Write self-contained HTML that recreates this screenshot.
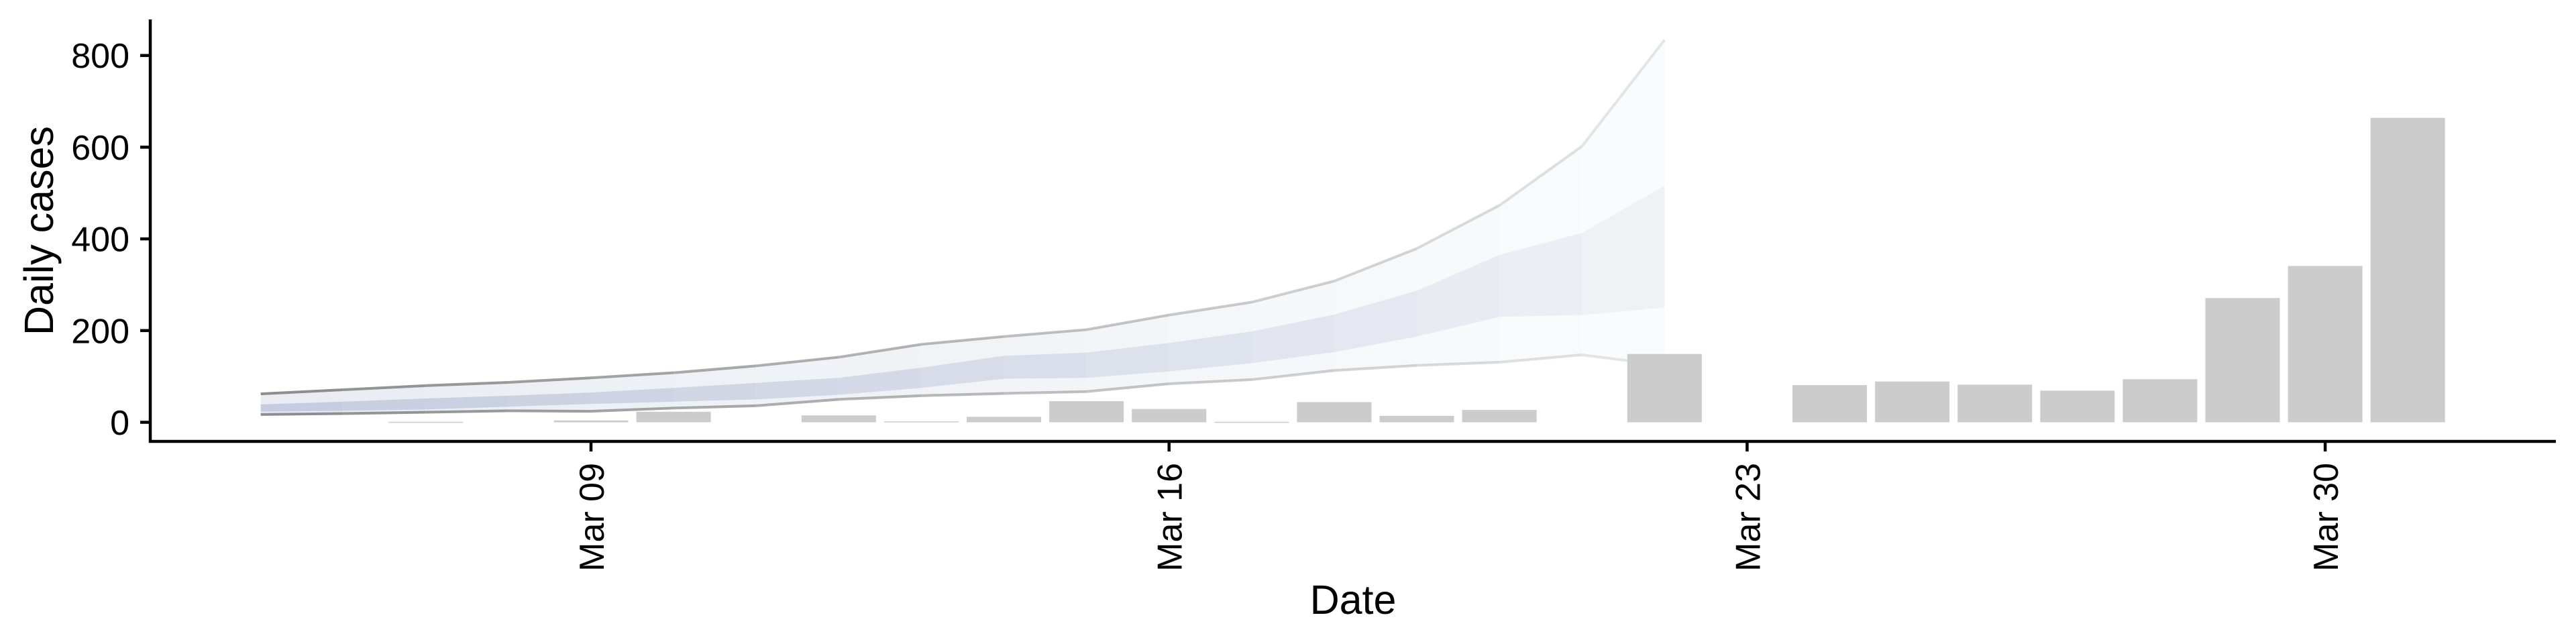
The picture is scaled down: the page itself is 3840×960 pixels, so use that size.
<!DOCTYPE html>
<html><head><meta charset="utf-8"><style>
html,body{margin:0;padding:0;background:#fff;}
svg{display:block;font-family:"Liberation Sans",Arial,sans-serif;}
</style></head><body>
<svg id="chart" width="3840" height="960" viewBox="0 0 3840 960" xmlns="http://www.w3.org/2000/svg">
<g id="bands"></g>
<g id="bars"></g>
<g id="axes"></g>
</svg>
<script>
// ---- data ----
const barDays = [7, 9, 10, 12, 13, 14, 15, 16, 17, 18, 19, 20, 22, 24, 25, 26, 27, 28, 29, 30, 31];
const barValues = [1, 4, 23, 15, 2, 12, 46, 29, 1, 44, 14, 27, 149, 81, 89, 82, 69, 94, 271, 341, 664];
const bandDays = [5, 6, 7, 8, 9, 10, 11, 12, 13, 14, 15, 16, 17, 18, 19, 20, 21, 22];
const outerUpper = [62, 71, 80, 87, 97, 108, 123, 142, 170, 187, 202, 234, 262, 308, 379, 473, 602, 834];
const outerLower = [17, 19, 22, 25, 24, 31, 36, 50, 58, 63, 67, 84, 93, 113, 124, 131, 147, 124];
const innerUpper = [39, 45, 52, 58, 65, 75, 86, 97, 119, 145, 152, 173, 198, 235, 287, 365, 413, 516];
const innerLower = [23, 25, 28, 34, 40, 45, 50, 60, 75, 95, 97, 111, 129, 153, 187, 230, 234, 250];
const yTicks = [0, 200, 400, 600, 800];
const xTickDays = [9, 16, 23, 30];
const xTickLabels = ["Mar 09", "Mar 16", "Mar 23", "Mar 30"];

// ---- scales ----
const X0 = 881, DAYW = 123.1;
const Y0 = 629.5, PXU = 0.6835;
function xs(d){ return X0 + (d - 9) * DAYW; }
function ys(v){ return Y0 - v * PXU; }
const NS = "http://www.w3.org/2000/svg";
function mk(tag, attrs, parent){
  const e = document.createElementNS(NS, tag);
  for (const k in attrs) e.setAttribute(k, attrs[k]);
  parent.appendChild(e); return e;
}
const gB = document.getElementById('bands');
const gBars = document.getElementById('bars');
const gA = document.getElementById('axes');

// ---- bands (fading per segment) ----
const n = bandDays.length;
for (let i = 0; i < n - 1; i++) {
  const t = i / (n - 2);
  const a = 1 - 0.78 * t;
  const x1 = xs(bandDays[i]), x2 = xs(bandDays[i+1]);
  const po = mk('polygon', {points: `${x1},${ys(outerUpper[i])} ${x2},${ys(outerUpper[i+1])} ${x2},${ys(outerLower[i+1])} ${x1},${ys(outerLower[i])}`, fill: 'rgb(233,236,242)', 'fill-opacity': a}, gB);
  
  
  const pi = mk('polygon', {points: `${x1},${ys(innerUpper[i])} ${x2},${ys(innerUpper[i+1])} ${x2},${ys(innerLower[i+1])} ${x1},${ys(innerLower[i])}`, fill: 'rgb(196,203,222)', 'fill-opacity': a * 0.95}, gB);
  
  
  const lu = mk('line', {x1: x1, y1: ys(outerUpper[i]), x2: x2, y2: ys(outerUpper[i+1]), stroke: '#888', 'stroke-opacity': a * 0.95, 'stroke-width': 4}, gB);
  
  
  const ll = mk('line', {x1: x1, y1: ys(outerLower[i]), x2: x2, y2: ys(outerLower[i+1]), stroke: '#888', 'stroke-opacity': a * 0.95, 'stroke-width': 4}, gB);
  
  
}

// ---- bars ----
const BW = 111;
for (let i = 0; i < barDays.length; i++) {
  const x = xs(barDays[i]) - BW / 2;
  const y = ys(barValues[i]);
  const r = mk('rect', {x: x, y: y, width: BW, height: Math.max(Y0 - y, 1.5), fill: '#cccccc'}, gBars);
  
  
}

// ---- axes ----
const yl = mk('line', {x1: 224, y1: 29, x2: 224, y2: 660, stroke: '#000', 'stroke-width': 4.5}, gA);


const xl = mk('line', {x1: 222, y1: 658, x2: 3810, y2: 658, stroke: '#000', 'stroke-width': 4.5}, gA);


yTicks.forEach(v => {
  const tk = mk('line', {x1: 209, y1: ys(v), x2: 224, y2: ys(v), stroke: '#000', 'stroke-width': 4.5}, gA);
  
  
  const tx = mk('text', {x: 193, y: ys(v) + 18.5, 'text-anchor': 'end', 'font-size': 52, fill: '#000'}, gA);
  tx.textContent = String(v);
  
  
});
xTickDays.forEach((d, i) => {
  const x = xs(d);
  const tk = mk('line', {x1: x, y1: 658, x2: x, y2: 673, stroke: '#000', 'stroke-width': 4.5}, gA);
  
  
  const tx = mk('text', {x: 0, y: 0, 'text-anchor': 'end', 'font-size': 52, fill: '#000', transform: `translate(${x + 19},${690}) rotate(-90)`}, gA);
  tx.textContent = xTickLabels[i];
  
  
});
const xt = mk('text', {x: 2017, y: 915, 'text-anchor': 'middle', 'font-size': 61, fill: '#000'}, gA);
xt.textContent = 'Date';


const yt = mk('text', {x: 0, y: 0, 'text-anchor': 'middle', 'font-size': 61, fill: '#000', transform: 'translate(79,344) rotate(-90)'}, gA);
yt.textContent = 'Daily cases';


</script>
</body></html>
